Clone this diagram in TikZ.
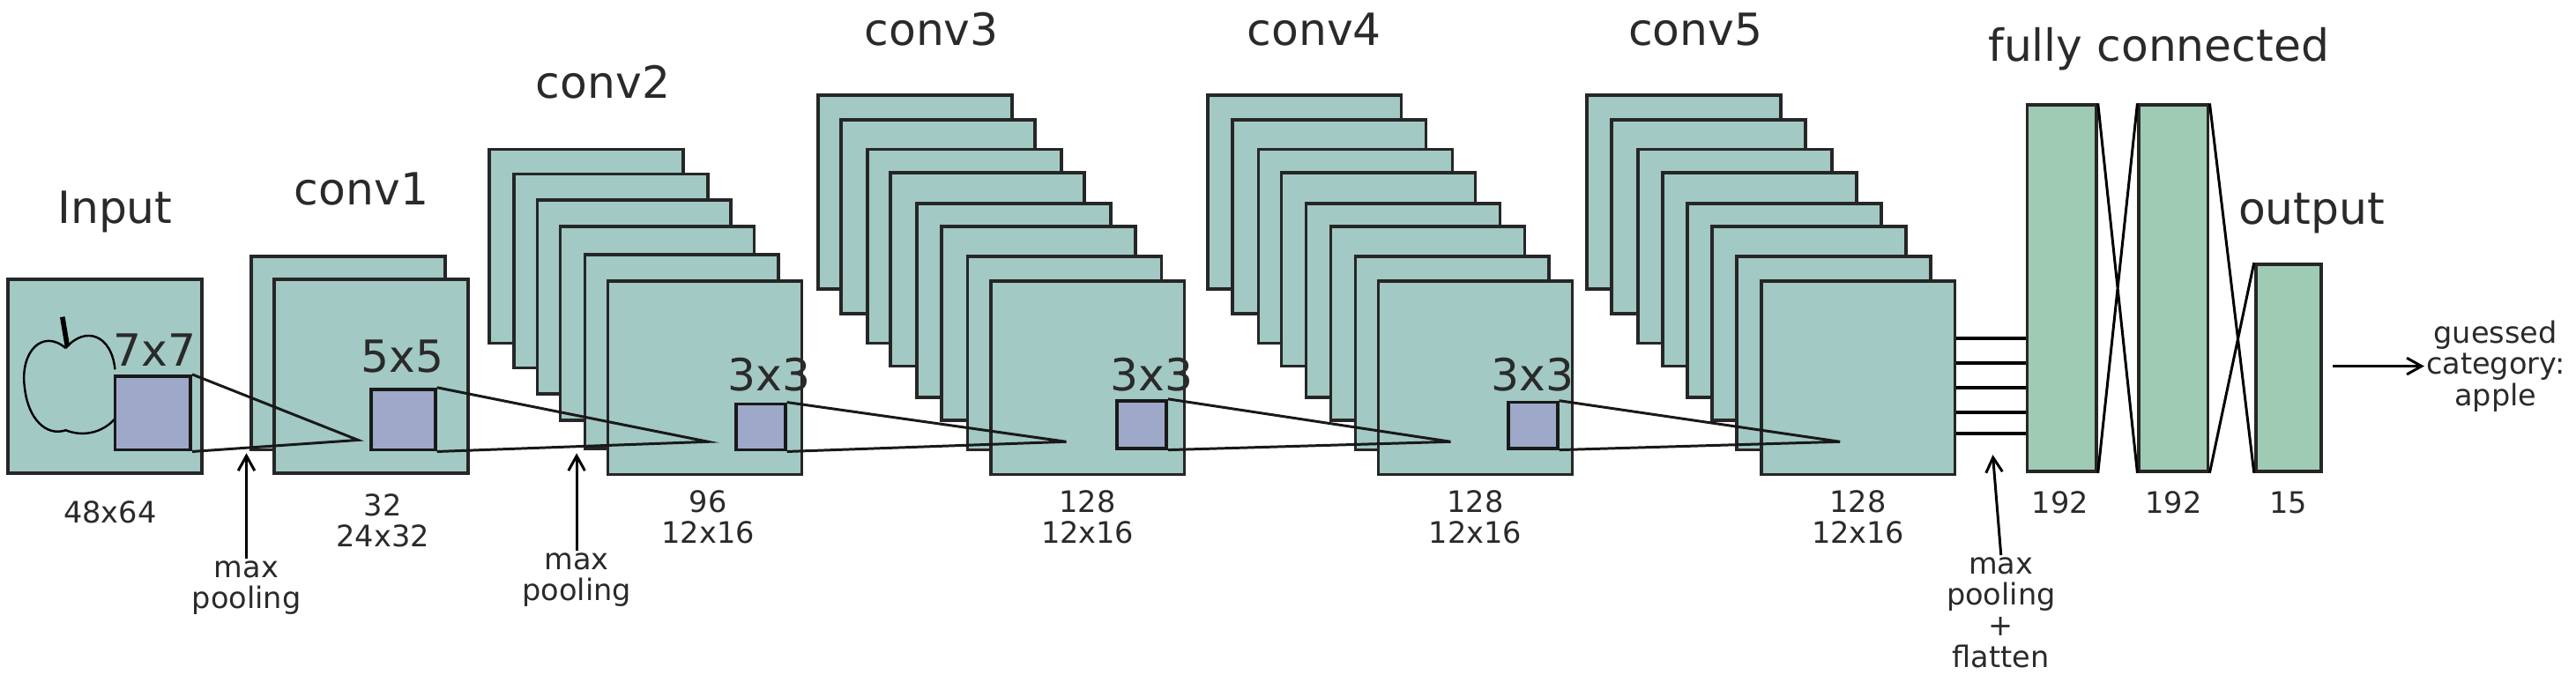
\documentclass[tikz,border=0pt]{standalone}
\usepackage{fontspec}
\setmainfont{DejaVu Sans}
\usetikzlibrary{arrows.meta}
\definecolor{fmfill}{HTML}{A2C9C3}
\definecolor{fcfill}{HTML}{9FCAB4}
\definecolor{kfill}{HTML}{9EA8C8}
\definecolor{txt}{HTML}{2A2A2A}
\begin{document}
\begin{tikzpicture}[x=1pt,y=-1pt,
  fm/.style={draw=black!85,fill=fmfill,line width=2pt,inner sep=0,minimum width=118pt,minimum height=118pt},
  fc/.style={draw=black!85,fill=fcfill,line width=2pt,inner sep=0,minimum width=42pt},
  kern/.style={draw=black!90,fill=kfill,line width=2pt,inner sep=0},
  conn/.style={line width=1.6pt,black!90},
  title/.style={text=txt,font=\fontsize{27}{30}\selectfont},
  lab/.style={text=txt,font=\fontsize{18}{19}\selectfont,align=center,inner sep=1pt},
  arr/.style={line width=1.6pt,-{Straight Barb[length=9pt,width=10pt,line width=1.6pt]}}]
\useasboundingbox (0,0) rectangle (1568,415);
% input
\node[fm] (in) at (64,229) {};
\draw[line width=1.3pt] (40,212) .. controls (52,198) and (68,204) .. (70,225)
  (40,212) .. controls (26,200) and (12,214) .. (15,236) .. controls (17,255) and (28,266) .. (40,262) .. controls (50,266) and (62,264) .. (70,255);
\draw[line width=3pt] (38,193) -- (41,211);
\node[kern,minimum width=46pt,minimum height=45pt] (k1) at (93,251.5) {};
% conv1
\node[fm] (c1a) at (212,215) {};
\node[fm] (c1b) at (226,229) {};
\node[kern,minimum width=39pt,minimum height=37pt] (k2) at (245.5,255.5) {};
% conv2
\foreach \x/\y [count=\i] in {298/91,313/106,327/122,341/138,356/155,370/171}
  \node[fm] (c2\i) at (\x+59,\y+59) {};
\node[kern,minimum width=30pt,minimum height=28pt] (k3) at (463,260) {};
% conv3
\foreach \x/\y [count=\i] in {498/58,512/73,528/91,542/105,558/124,573/138,589/156,603/171}
  \node[fm] (c3\i) at (\x+59,\y+59) {};
\node[kern,minimum width=30pt,minimum height=29pt] (k4) at (695,258.5) {};
% conv4
\foreach \x/\y [count=\i] in {735/58,750/73,766/91,780/105,795/124,810/138,825/156,839/171}
  \node[fm] (c4\i) at (\x+59,\y+59) {};
\node[kern,minimum width=30pt,minimum height=28pt] (k5) at (933,259) {};
% conv5
\foreach \x/\y [count=\i] in {966/58,981/73,997/91,1012/105,1027/124,1042/138,1057/156,1072/171}
  \node[fm] (c5\i) at (\x+59,\y+59) {};
% fully connected
\node[fc,minimum height=223pt] (f1) at (1255,175.5) {};
\node[fc,minimum height=223pt] (f2) at (1323,175.5) {};
\node[fc,minimum width=40pt,minimum height=126pt] (out) at (1393,224) {};
% kernel connectors
\coordinate (a1) at (218,268);
\coordinate (a2) at (431,269);
\coordinate (a3) at (649,269);
\coordinate (a4) at (883,269);
\coordinate (a5) at (1120,269);
\draw[conn] (k1.north east) -- (a1) -- (k1.south east);
\draw[conn] (k2.north east) -- (a2) -- (k2.south east);
\draw[conn] (k3.north east) -- (a3) -- (k3.south east);
\draw[conn] (k4.north east) -- (a4) -- (k4.south east);
\draw[conn] (k5.north east) -- (a5) -- (k5.south east);
% flatten lines
\foreach \y in {206,221,236,251,264}
  \draw[line width=2pt] (c58.east |- 0,\y) -- (f1.west |- 0,\y);
% crossing lines
\draw[line width=1.6pt] (f1.north east) -- (f2.south west) (f1.south east) -- (f2.north west)
  (f2.north east) -- (out.south west) (f2.south east) -- (out.north west);
% titles
\node[title] (tin) at (70,129) {Input};
\node[title] (t1) at (220,115) {conv1};
\node[title] (t2) at (367,50) {conv2};
\node[title] (t3) at (567,18) {conv3};
\node[title] (t4) at (800,18) {conv4};
\node[title] (t5) at (1032,18) {conv5};
\node[title] (tfc) at (1314,30) {fully connected};
\node[title] (tout) at (1407,130) {output};
\node[title] at (94,213) {7x7};
\node[title] at (245,217) {5x5};
\node[title] at (468,228) {3x3};
\node[title] at (701,228) {3x3};
\node[title] at (933,228) {3x3};
% size labels
\node[lab] at (67,312) {48x64};
\node[lab] at (233,317) {32\\24x32};
\node[lab] at (431,315) {96\\12x16};
\node[lab] at (662,315) {128\\12x16};
\node[lab] at (898,315) {128\\12x16};
\node[lab] at (1131,315) {128\\12x16};
\node[lab] at (1254,306) {192};
\node[lab] at (1323,306) {192};
\node[lab] at (1393,306) {15};
% pooling arrows
\node[lab] (p1) at (150,358) {max\\pooling};
\node[lab] (p2) at (351,353) {max\\pooling};
\node[lab] (p3) at (1218,373) {max\\pooling\\+\\flatten};
\draw[arr] (p1.north) -- (150,276);
\draw[arr] (p2.north) -- (351,276);
\draw[arr] (p3.north) -- (1213,277);
% output
\node[lab] (g) at (1519,223) {guessed\\category:\\apple};
\draw[arr] (1420,223) -- (g.west);
\end{tikzpicture}
\end{document}
